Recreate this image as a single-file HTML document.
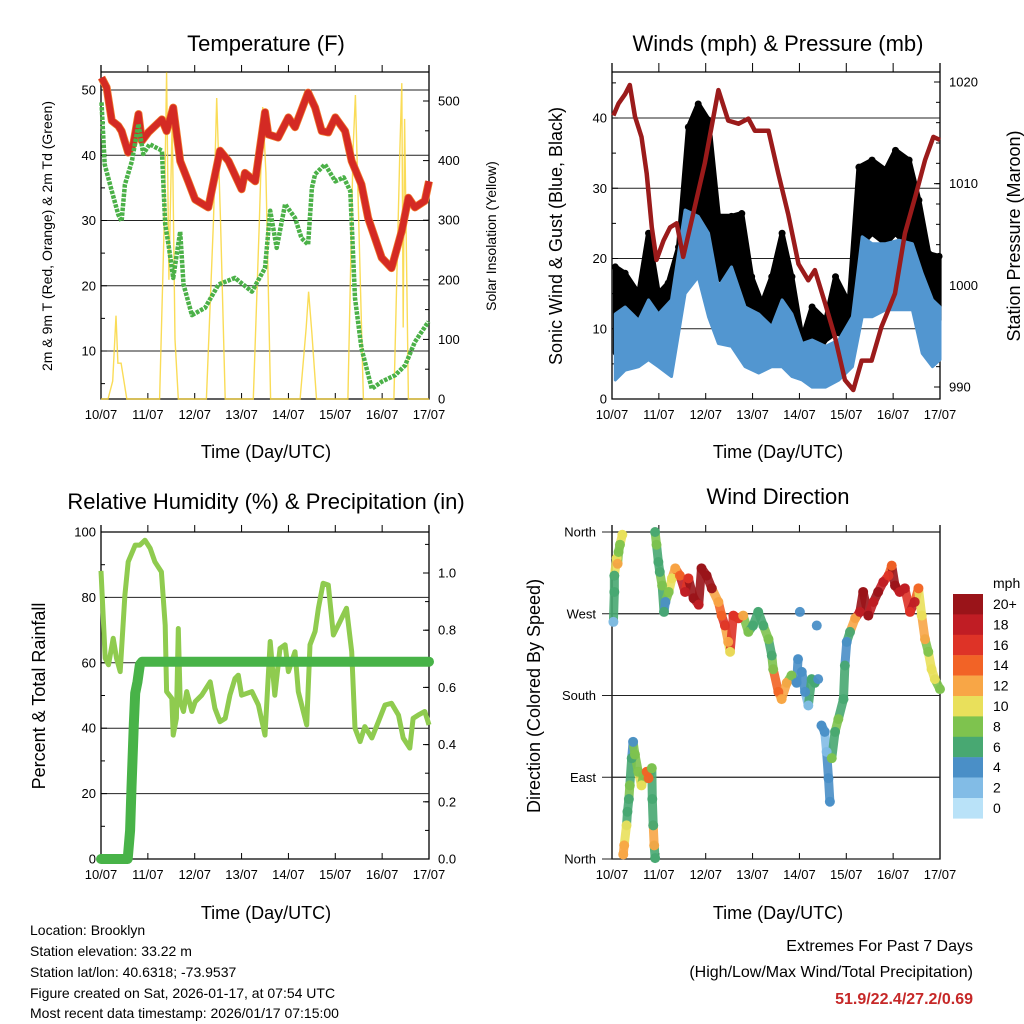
<!DOCTYPE html>
<html><head><meta charset="utf-8"><style>
html,body{margin:0;padding:0;background:#fff;}
svg{display:block;font-family:"Liberation Sans",sans-serif;}
</style></head><body>
<svg id="fig" width="1024" height="1024" viewBox="0 0 1024 1024" xmlns="http://www.w3.org/2000/svg">
<rect width="1024" height="1024" fill="#fff"/>
<text x="266" y="51" font-size="22" text-anchor="middle">Temperature (F)</text>
<text x="778" y="51" font-size="22" text-anchor="middle">Winds (mph) &amp; Pressure (mb)</text>
<text x="266" y="509" font-size="22" text-anchor="middle">Relative Humidity (%) &amp; Precipitation (in)</text>
<text x="778" y="504" font-size="22" text-anchor="middle">Wind Direction</text>
<text transform="translate(52,236) rotate(-90)" font-size="14" text-anchor="middle">2m &amp; 9m T (Red, Orange) &amp; 2m Td (Green)</text>
<text transform="translate(496,236) rotate(-90)" font-size="14" text-anchor="middle">Solar Insolation (Yellow)</text>
<text transform="translate(562,236) rotate(-90)" font-size="18" text-anchor="middle">Sonic Wind &amp; Gust (Blue, Black)</text>
<text transform="translate(1020,236) rotate(-90)" font-size="18" text-anchor="middle">Station Pressure (Maroon)</text>
<text transform="translate(45,696) rotate(-90)" font-size="18" text-anchor="middle">Percent &amp; Total Rainfall</text>
<text transform="translate(540,696) rotate(-90)" font-size="18" text-anchor="middle">Direction (Colored By Speed)</text>
<text x="266" y="458" font-size="18" text-anchor="middle">Time (Day/UTC)</text>
<text x="778" y="458" font-size="18" text-anchor="middle">Time (Day/UTC)</text>
<text x="266" y="919" font-size="18" text-anchor="middle">Time (Day/UTC)</text>
<text x="778" y="919" font-size="18" text-anchor="middle">Time (Day/UTC)</text>
<g font-size="14">
<text x="30" y="935">Location: Brooklyn</text>
<text x="30" y="956">Station elevation: 33.22 m</text>
<text x="30" y="977">Station lat/lon: 40.6318; -73.9537</text>
<text x="30" y="998">Figure created on Sat, 2026-01-17, at 07:54 UTC</text>
<text x="30" y="1018">Most recent data timestamp: 2026/01/17 07:15:00</text>
</g>
<g font-size="16" text-anchor="end">
<text x="973" y="951">Extremes For Past 7 Days</text>
<text x="973" y="977">(High/Low/Max Wind/Total Precipitation)</text>
<text x="973" y="1004" fill="#c62828" font-weight="bold">51.9/22.4/27.2/0.69</text>
</g>
<g id="layer"></g>
</svg>
<script>
// ---- data ----
const dayLabels = ["10/07","11/07","12/07","13/07","14/07","15/07","16/07","17/07"];
const tempT = [0.01,.12,.23,.37,.44,.58,.69,.80,.87,1.01,1.30,1.40,1.54,1.69,1.86,2.01,2.29,2.54,2.72,3.00,3.07,3.29,3.50,3.57,3.78,4.00,4.14,4.42,4.57,4.71,4.85,5.00,5.21,5.35,5.56,5.70,5.99,6.20,6.42,6.56,6.70,6.91,7.0];
const tempV = [51.9,50.4,45.3,44.5,43.7,40.4,41.7,46.3,42.2,43.5,45.5,43.7,47.3,39.1,36.0,33.2,32.0,40.7,39.1,34.8,37.3,36.0,46.6,43.2,42.7,45.8,44.3,49.6,47.3,43.7,43.5,45.8,43.7,39.1,35.5,30.4,24.3,22.7,28.4,33.5,32.0,33.0,36.0];
const dewT = [.01,.08,.23,.37,.44,.51,.66,.80,.90,1.04,1.30,1.37,1.44,1.54,1.69,1.76,1.94,2.22,2.51,2.86,3.22,3.50,3.61,3.75,3.93,4.14,4.28,4.42,4.50,4.57,4.78,5.00,5.18,5.32,5.42,5.56,5.78,5.99,6.28,6.49,6.70,6.99];
const dewV = [48.1,38.6,34.5,30.9,29.9,35.5,39.1,44.8,40.2,41.7,40.7,29.4,26.3,21.2,28.3,20.2,15.5,16.6,20.2,21.2,19.1,22.7,31.5,25.8,32.5,30.4,27.3,26.3,35.0,37.1,38.6,36.0,36.6,34.5,18.1,10.4,4.2,5.3,6.3,7.8,11.4,14.5];
const solarT = [0,.15,.25,.32,.36,.43,.55,1.25,1.35,1.40,1.45,1.52,1.58,1.65,2.25,2.40,2.47,2.55,2.65,3.25,3.38,3.45,3.52,3.62,4.25,4.38,4.43,4.50,4.60,5.27,5.38,5.43,5.50,5.60,6.25,6.38,6.42,6.45,6.48,6.56,7.0];
const solarV = [0,0,30,140,60,60,0,0,300,548,200,470,100,0,0,300,505,300,0,0,300,490,380,0,0,120,180,110,0,0,420,510,300,0,0,420,530,120,470,0,0];
const presT = [.03,.14,.28,.38,.49,.63,.74,.85,.95,1.10,1.24,1.38,1.52,1.70,1.98,2.27,2.48,2.70,2.91,3.05,3.34,3.55,3.76,3.98,4.19,4.33,4.55,4.76,4.97,5.15,5.33,5.54,5.75,5.90,6.04,6.25,6.47,6.68,6.86,7.0];
const presV = [1016.7,1017.9,1018.8,1019.7,1016.6,1014.6,1011.0,1005.7,1002.5,1004.4,1005.7,1006.1,1002.8,1006.4,1012.0,1019.2,1016.2,1015.9,1016.4,1015.2,1015.2,1011.0,1007.0,1002.1,1000.5,1001.5,998.2,994.9,990.7,989.7,992.6,992.6,995.9,997.6,999.2,1005.1,1008.7,1012.3,1014.6,1014.3];
const windT = [.07,.28,.57,.78,.99,1.27,1.56,1.84,2.06,2.27,2.55,2.84,3.13,3.41,3.63,3.84,4.06,4.27,4.56,4.84,5.13,5.34,5.55,5.84,6.12,6.41,6.62,6.84,7.0];
const windHi = [12.1,13.1,11.2,14.1,12.1,14.1,26.9,26.0,23.6,15.9,18.8,13.1,12.1,10.3,14.1,12.1,7.9,8.4,7.5,8.4,11.7,23.1,22.1,22.1,22.6,22.1,17.9,14.1,13.1];
const windLo = [2.7,4.1,4.6,5.6,4.6,3.2,15.0,17.4,11.7,7.9,7.5,4.6,3.7,4.6,4.6,3.2,2.7,1.7,1.7,2.7,4.6,11.7,11.7,12.7,12.7,12.7,6.5,4.6,5.6];
const gustT = [.07,.28,.57,.78,.99,1.20,1.42,1.63,1.84,2.06,2.27,2.55,2.77,2.98,3.20,3.41,3.63,3.84,4.06,4.27,4.56,4.77,5.06,5.27,5.55,5.84,6.05,6.34,6.55,6.76,6.98];
const gustHi = [18.8,17.9,15.0,23.6,15.0,16.5,21.6,38.7,42.0,39.7,26.0,26.0,26.4,17.4,13.6,17.4,23.6,17.4,8.6,13.1,11.2,17.4,13.6,33.0,34.0,32.6,35.4,34.0,28.3,20.7,20.3];
const gustLo = [6.5,9.4,8.9,10.3,8.4,8.9,14.1,24.5,26.9,24.5,17.4,15.0,14.1,10.3,9.4,10.3,15.0,9.4,4.5,5.6,8.4,9.4,8.9,21.6,23.6,22.1,23.6,21.6,18.8,12.1,11.2];
const rhT = [0,.09,.16,.26,.33,.41,.51,.58,.73,.83,.94,1.05,1.15,1.29,1.37,1.40,1.51,1.54,1.61,1.65,1.69,1.76,1.83,1.94,2.01,2.15,2.33,2.43,2.54,2.65,2.75,2.86,2.93,3.00,3.22,3.36,3.50,3.61,3.71,3.82,3.93,4.00,4.14,4.21,4.39,4.46,4.57,4.64,4.74,4.85,4.96,5.10,5.24,5.35,5.42,5.53,5.63,5.78,5.92,6.06,6.20,6.35,6.45,6.59,6.66,6.77,6.91,7.0];
const rhV = [88.1,61.4,59.4,67.5,61.4,57.3,80.7,90.9,96.0,96.0,97.5,95.0,90.9,87.8,71.5,51.2,49.1,37.9,43.0,70.5,48.1,45.1,51.2,45.1,48.1,50.1,54.2,46.1,42.0,43.0,50.1,55.2,56.2,50.1,51.2,47.1,37.9,66.5,50.1,64.4,65.5,57.3,63.4,51.2,41.0,65.5,69.6,76.7,84.3,83.8,68.5,72.6,76.7,63.4,40.0,35.9,40.5,37.0,42.0,47.1,47.6,44.0,37.0,33.9,43.0,44.0,45.1,41.0];
const rainT = [0,.57,.62,.65,.70,.73,.78,.83,.88,7.0];
const rainV = [0,0,.10,.25,.47,.58,.62,.68,.69,.69];
const dirT = [.03,.05,.05,.10,.12,.14,.17,.22,.24,.26,.31,.33,.36,.38,.42,.45,.49,.56,.63,.67,.74,.78,.85,.86,.88,.90,.92,.92,.95,.99,1.02,1.07,1.11,1.14,1.21,1.28,1.35,1.45,1.56,1.63,1.74,1.85,1.91,2.02,2.13,2.27,2.34,2.41,2.48,2.52,2.59,2.70,2.80,2.91,3.01,3.12,3.23,3.34,3.41,3.44,3.55,3.62,3.73,3.83,3.94,3.97,4.01,4.05,4.12,4.19,4.26,4.33,4.37,4.40,4.47,4.54,4.58,4.62,4.65,4.69,4.76,4.83,4.94,4.97,5.01,5.08,5.19,5.29,5.36,5.47,5.58,5.68,5.79,5.90,5.97,6.04,6.14,6.25,6.36,6.46,6.54,6.61,6.68,6.75,6.82,6.89,7.0];
const dirV = [261,294,312,331,325,338,346,357,5,15,37,52,66,81,111,129,115,96,81,92,96,89,100,66,37,15,1,360,346,327,316,301,272,283,294,309,320,312,294,309,287,280,320,312,298,283,268,257,239,228,268,265,268,250,257,272,257,242,224,209,184,176,194,202,194,220,272,206,184,169,198,194,257,198,147,140,118,89,63,111,140,154,176,213,239,250,265,272,294,268,283,294,305,312,323,301,294,298,272,283,298,268,242,228,209,198,187];
const dirS = [3,6,7,10,13,8,9,10,13,12,10,6,7,8,7,4,8,9,10,8,14,15,8,6,6,12,7,7,8,6,7,8,7,5,9,10,13,15,18,17,20,18,21,21,20,12,14,16,13,11,16,17,12,8,7,7,6,8,7,9,14,13,12,8,5,4,4,4,4,3,6,6,4,4,4,4,3,5,4,9,6,8,6,6,4,6,13,18,21,21,19,21,18,16,14,21,19,18,17,18,15,11,12,8,10,11,8];
const cbLabels = ["20+","18","16","14","12","10","8","6","4","2","0"];
const cbColors = ["#9a1419","#c01d24","#de3327","#f26326","#f8a646","#e9e05b","#7ec34e","#48a872","#4a8fc7","#82bce6","#b9e2f8"];

// ---- helpers ----
const NS="http://www.w3.org/2000/svg";
const layer=document.getElementById('layer');
function mk(tag,attrs,parent){const e=document.createElementNS(NS,tag);for(const k in attrs)e.setAttribute(k,attrs[k]);(parent||layer).appendChild(e);return e;}
function xs(L,R){return t=>L+t*(R-L)/7;}
function lin(v0,p0,v1,p1){return v=>p0+(v-v0)*(p1-p0)/(v1-v0);}
function path(xf,yf,T,V){return T.map((t,i)=>(i?'L':'M')+xf(t).toFixed(1)+','+yf(V[i]).toFixed(1)).join('');}
function band(xf,yf,T,H,Lo){let d=T.map((t,i)=>(i?'L':'M')+xf(t).toFixed(1)+','+yf(H[i]).toFixed(1)).join('');for(let i=T.length-1;i>=0;i--)d+='L'+xf(T[i]).toFixed(1)+','+yf(Lo[i]).toFixed(1);return d+'Z';}

function frame(L,R,T,B,top2,yb){
  const g=mk('g',{});
  
  
  mk('line',{x1:L,y1:top2,x2:R,y2:top2,stroke:'#000','stroke-width':1.3},g);
  mk('path',{d:`M${L},${T}L${L},${B}L${R},${B}L${R},${T}`,fill:'none',stroke:'#000','stroke-width':1.3},g);
  const xf=xs(L,R);
  for(let i=0;i<8;i++){
    const x=xf(i);
    mk('line',{x1:x,y1:T,x2:x,y2:top2,stroke:'#000','stroke-width':1},g);
    mk('line',{x1:x,y1:B,x2:x,y2:B-6,stroke:'#000','stroke-width':1},g);
    const tx=mk('text',{x:x,y:yb,'font-size':13,'text-anchor':'middle'},g);
    
    
    tx.textContent=dayLabels[i];
  }
  return xf;
}
function hgrid(L,R,ys){for(const y of ys){const l=mk('line',{x1:L,y1:y,x2:R,y2:y,stroke:'#222','stroke-width':1});}}
function ytick(x,y,label,anchor,dx,len){mk('line',{x1:x,y1:y,x2:x+len,y2:y,stroke:'#000','stroke-width':1});if(label!==null){const t=mk('text',{x:x+dx,y:y+4.5,'font-size':13,'text-anchor':anchor});t.textContent=label;}}

// ---- panel 1: temperature ----
{
 const L=101,R=429,T=65,B=399;
 const xf=frame(L,R,T,B,72,419);
 const yT=lin(10,351,50,90), yS=lin(0,399,500,101);
 hgrid(L,R,[10,20,30,40,50].map(yT));
 [10,20,30,40,50].forEach(v=>ytick(L,yT(v),String(v),'end',-5,6));
 [5,15,25,35,45].forEach(v=>ytick(L,yT(v),null,'end',0,4));
 [0,100,200,300,400,500].forEach(v=>ytick(R,yS(v),String(v),'start',9,-6));
 for(let v=50;v<=500;v+=100)ytick(R,yS(v),null,'start',0,-4);
 let p=mk('path',{d:path(xf,yS,solarT,solarV),fill:'none',stroke:'#f9d63a','stroke-width':1.4,opacity:.85});
 
 p=mk('path',{d:path(xf,yT,tempT,tempV),fill:'none',stroke:'#f07a2c','stroke-width':8,'stroke-linejoin':'round'});
 
 p=mk('path',{d:path(xf,yT,tempT,tempV),fill:'none',stroke:'#d42a24','stroke-width':6.5,'stroke-linejoin':'round'});
 
 p=mk('path',{d:path(xf,yT,dewT,dewV),fill:'none',stroke:'#4bb148','stroke-width':4.5,'stroke-dasharray':'3.5 1.2','stroke-linejoin':'round'});
 
}
// ---- panel 2: winds ----
{
 const L=612,R=940,T=63,B=399;
 const xf=frame(L,R,T,B,72,419);
 const yW=lin(0,399,40,118), yP=lin(990,387,1020,82);
 hgrid(L,R,[10,20,30,40].map(yW));
 [0,10,20,30,40].forEach(v=>ytick(L,yW(v),String(v),'end',-5,6));
 [5,15,25,35,45].forEach(v=>ytick(L,yW(v),null,'end',0,4));
 [990,1000,1010,1020].forEach(v=>ytick(R,yP(v),String(v),'start',9,-6));
 for(let v=992;v<=1020;v+=2)ytick(R,yP(v),null,'start',0,-4);
 let p=mk('path',{d:band(xf,yW,gustT,gustHi,gustLo),fill:'#000',stroke:'#000','stroke-width':5,'stroke-linejoin':'round'});
 
 gustT.forEach((t,i)=>{const c=mk('circle',{cx:xf(t),cy:yW(gustHi[i]),r:3.5,fill:'#000'});});
 p=mk('path',{d:band(xf,yW,windT,windHi,windLo),fill:'#5296d0',stroke:'#5296d0','stroke-width':3,'stroke-linejoin':'round'});
 
 p=mk('path',{d:path(xf,yP,presT,presV),fill:'none',stroke:'#9b1b1b','stroke-width':4.5,'stroke-linejoin':'round'});
 
}
// ---- panel 3: humidity ----
{
 const L=101,R=429,T=525,B=859;
 const xf=frame(L,R,T,B,532,879);
 const yH=lin(0,859,100,532), yR=lin(0,859,1.0,573);
 hgrid(L,R,[20,40,60,80].map(yH));
 [0,20,40,60,80,100].forEach(v=>ytick(L,yH(v),String(v),'end',-5,6));
 [10,30,50,70,90].forEach(v=>ytick(L,yH(v),null,'end',0,4));
 ['0.0','0.2','0.4','0.6','0.8','1.0'].forEach(v=>ytick(R,yR(+v),v,'start',9,-6));
 for(let v=0.1;v<1.15;v+=0.1)ytick(R,yR(v),null,'start',0,-4);
 let p=mk('path',{d:path(xf,yH,rhT,rhV),fill:'none',stroke:'#8fcb4f','stroke-width':5,'stroke-linejoin':'round'});
 
 p=mk('path',{d:path(xf,yR,rainT,rainV),fill:'none',stroke:'#48b348','stroke-width':10,'stroke-linecap':'round','stroke-linejoin':'round'});
 
}
// ---- panel 4: wind direction ----
{
 const L=612,R=940,T=525,B=859;
 const xf=frame(L,R,T,B,532,879);
 const yD=lin(0,859,360,532);
 hgrid(L,R,[90,180,270].map(yD));
 const names=['North','East','South','West','North'];
 [0,90,180,270,360].forEach((v,i)=>ytick(L,yD(v),names[i],'end',-16,0));
 [0,90,180,270,360].forEach(v=>{mk('line',{x1:L-10,y1:yD(v),x2:R,y2:yD(v),stroke:'#222','stroke-width':1});});
 function col(s){let k=Math.min(10,Math.floor(s/2));return cbColors[10-k];}
 for(let i=1;i<dirT.length;i++){
   if(dirT[i]-dirT[i-1]<0.16 && Math.abs(dirV[i]-dirV[i-1])<45){
     const s=mk('line',{x1:xf(dirT[i-1]),y1:yD(dirV[i-1]),x2:xf(dirT[i]),y2:yD(dirV[i]),stroke:col(dirS[i]),'stroke-width':9,'stroke-linecap':'round',opacity:.9});
     
     
   }
 }
 dirT.forEach((t,i)=>{const c=mk('circle',{cx:xf(t),cy:yD(dirV[i]),r:5,fill:col(dirS[i]),opacity:.95});
  });
 const cb=mk('g',{});
 const t0=mk('text',{x:993,y:588,'font-size':14},cb);t0.textContent='mph';
 cbColors.forEach((c,i)=>{mk('rect',{x:953,y:594+i*20.4,width:30,height:20.6,fill:c},cb);
   const t=mk('text',{x:993,y:609+i*20.4,'font-size':14},cb);t.textContent=cbLabels[i];});
}
</script>
</body></html>
